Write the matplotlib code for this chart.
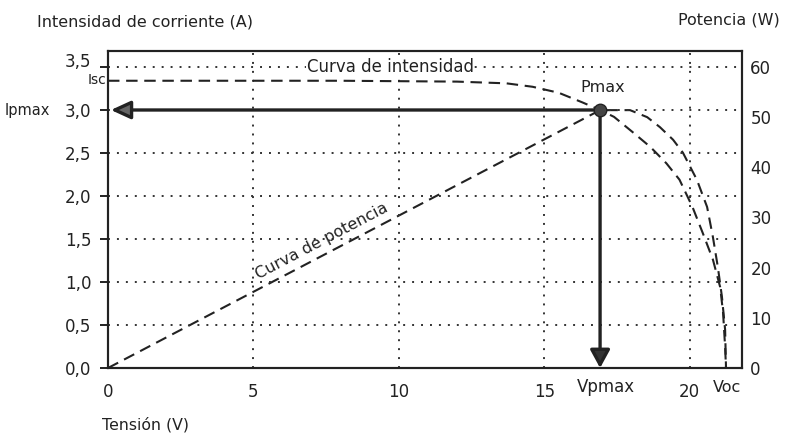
import matplotlib
matplotlib.use("Agg")
import matplotlib.pyplot as plt
from matplotlib.transforms import blended_transform_factory, ScaledTranslation

# ---- data ----
voltage_i = [0, 4, 8, 12, 13.7, 14.6, 15.5, 16.3, 16.92, 17.4, 18.05, 18.65,
             19.2, 19.65, 20.1, 20.45, 20.8, 21.05, 21.15, 21.22, 21.25]
current = [3.34, 3.34, 3.34, 3.33, 3.31, 3.27, 3.20, 3.09, 3.00, 2.92, 2.74, 2.57,
           2.38, 2.19, 1.87, 1.57, 1.26, 0.94, 0.64, 0.24, 0.0]

voltage_p = [0, 16.92, 17.37, 17.95, 18.54, 18.98, 19.43, 19.77, 20.25, 20.6,
             20.8, 20.97, 21.11, 21.22, 21.25]
power = [0, 51.4, 51.4, 51.4, 50.0, 48.0, 45.5, 42.9, 37.5, 32.1,
         26.1, 20.1, 14.2, 7.6, 0.0]

v_pmax = 16.92
i_pmax = 3.0
v_oc = 21.25

x_ticks = [0, 5, 10, 15, 20]
x_tick_labels = ["0", "5", "10", "15", "20"]
i_ticks = [0.0, 0.5, 1.0, 1.5, 2.0, 2.5, 3.0, 3.5]
i_tick_labels = ["0,0", "0,5", "1,0", "1,5", "2,0", "2,5", "3,0", "3,5"]
p_ticks = [0, 10, 20, 30, 40, 50, 60]
p_tick_labels = ["0", "10", "20", "30", "40", "50", "60"]
p_minor = [10, 20, 30, 40, 50]

INK = "#222222"
W, H = 785, 437

plt.rcParams["font.family"] = ["DejaVu Sans"]
fig = plt.figure(figsize=(W / 100, H / 100), dpi=100, facecolor="white")
ax = fig.add_axes([108 / W, 1 - 368 / H, (742 - 108) / W, (368 - 51) / H])
ax2 = ax.twinx()

ax.set_xlim(0, 21.8)
ax.set_ylim(0, 3.686)
ax2.set_ylim(0, 3.686 * 60 / 3.5)

ax.set_zorder(ax2.get_zorder() + 1)
ax.patch.set_visible(False)

# grid
ax.set_xticks(x_ticks)
ax.set_xticklabels(x_tick_labels)
ax.set_yticks(i_ticks)
ax.set_yticklabels(i_tick_labels)
ax.grid(True, ls=(0, (1, 3.6)), lw=1.4, color="#333333")
ax.set_axisbelow(True)

ax.tick_params(axis="x", length=0, pad=11, labelsize=12, colors=INK)
ax.tick_params(axis="y", direction="out", length=6, width=1.4, pad=6,
               labelsize=12, colors=INK)
# the "3,5" label sits a little above its line in the original
top_lbl = ax.get_yticklabels()[-1]
top_lbl.set_transform(top_lbl.get_transform() +
                      ScaledTranslation(0, 5 / 72, fig.dpi_scale_trans))

ax2.set_yticks(p_ticks)
ax2.set_yticklabels(p_tick_labels)
ax2.set_yticks(p_minor, minor=True)
ax2.tick_params(axis="y", which="major", length=0, pad=6, labelsize=12, colors=INK)
ax2.tick_params(axis="y", which="minor", direction="in", length=8, width=1.4, color=INK)

for a in (ax, ax2):
    for s in a.spines.values():
        s.set_linewidth(1.5)
        s.set_color(INK)

dash = (0, (5.5, 3.2))
ax.plot(voltage_i, current, ls=dash, lw=1.5, color=INK, zorder=3)
ax2.plot(voltage_p, power, ls=dash, lw=1.5, color=INK, zorder=3)

# arrows
ax.annotate("", xy=(0.1, i_pmax), xytext=(v_pmax, i_pmax),
            arrowprops=dict(arrowstyle="-|>,head_length=1.2,head_width=0.55",
                            lw=2.4, ec=INK, fc="#666666", mutation_scale=10,
                            shrinkA=0, shrinkB=0), zorder=5)
ax.annotate("", xy=(v_pmax, 0.0), xytext=(v_pmax, i_pmax),
            arrowprops=dict(arrowstyle="-|>,head_length=1.1,head_width=0.6",
                            lw=2.4, ec=INK, fc="#333333", mutation_scale=10,
                            shrinkA=0, shrinkB=0), zorder=5)
ax.plot([v_pmax], [i_pmax], "o", ms=9, mfc="#444444", mec=INK, zorder=6)

# texts inside
ax.text(9.7, 3.5, "Curva de intensidad", ha="center", va="center", fontsize=12,
        color=INK, bbox=dict(fc="white", ec="none", pad=0.5), zorder=4)
ax.text(7.36, 1.47, "Curva de potencia", ha="center", va="center", fontsize=11.5,
        color=INK, rotation=27.7, rotation_mode="anchor", zorder=4)
ax.text(17.02, 3.256, "Pmax", ha="center", va="center", fontsize=11.5, color=INK, zorder=6)

tb = blended_transform_factory(ax.transData, ax.transAxes)
ax.text(17.13, -0.06, "Vpmax", transform=tb, ha="center", va="center",
        fontsize=12, color=INK)
ax.text(21.29, -0.06, "Voc", transform=tb, ha="center", va="center",
        fontsize=11.5, color=INK)

# figure texts
fig.text(37 / W, 1 - 22 / H, "Intensidad de corriente (A)", ha="left", va="center",
         fontsize=11.5, color=INK)
fig.text(780 / W, 1 - 20 / H, "Potencia (W)", ha="right", va="center",
         fontsize=11.5, color=INK)
fig.text(102 / W, 1 - 425 / H, "Tensión (V)", ha="left", va="center",
         fontsize=11.3, color=INK)
fig.text(50 / W, 1 - 110 / H, "Ipmax", ha="right", va="center", fontsize=10.5, color=INK)
fig.text(106 / W, 1 - 80 / H, "Isc", ha="right", va="center", fontsize=10, color=INK)

fig.savefig("out.png", dpi=100, facecolor="white")
